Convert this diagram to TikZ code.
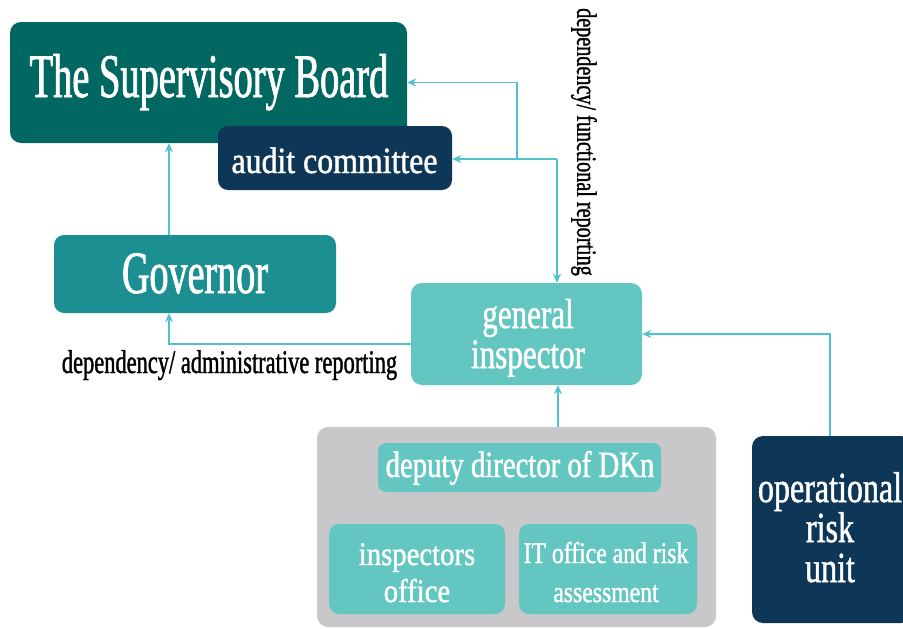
\documentclass[tikz,border=0pt]{standalone}
\usepackage{fontspec}
\setmainfont{Liberation Serif}
\usetikzlibrary{arrows.meta}

\definecolor{boardgreen}{RGB}{0,104,96}
\definecolor{navy}{RGB}{14,54,86}
\definecolor{govteal}{RGB}{27,143,145}
\definecolor{lightteal}{RGB}{99,198,193}
\definecolor{panelgray}{RGB}{200,200,202}
\definecolor{linkcyan}{RGB}{78,195,207}

% size, horizontal squeeze, line spacing
\newcommand\cfont[3]{\fontsize{#1}{#3}\selectfont\addfontfeatures{FakeStretch=#2,FakeBold=1.2}}

\tikzset{
  box/.style={rounded corners=11pt, inner sep=0pt, draw=none},
  lbl/.style={text=white, anchor=base, inner sep=0pt, align=center},
  note/.style={text=black, inner sep=0pt},
  link/.style={draw=linkcyan, line width=1.8pt,
    -{Stealth[length=9pt,width=8pt]}},
  plain/.style={draw=linkcyan, line width=1.8pt},
}

\begin{document}
\begin{tikzpicture}[x=1pt,y=-1pt]
\useasboundingbox (0,0) rectangle (903,629);
\fill[white] (0,0) rectangle (903,629);

% boxes
\node[box, fill=boardgreen, minimum width=397pt, minimum height=121pt] (board) at (208.5,82.5) {};
\node[box, fill=navy, rounded corners=10pt, minimum width=234pt, minimum height=64pt] (audit) at (335,158) {};
\node[box, fill=govteal, rounded corners=10pt, minimum width=282pt, minimum height=78pt] (gov) at (195,274) {};
\node[box, fill=lightteal, minimum width=231pt, minimum height=102pt] (gi) at (526.5,334) {};
\node[box, fill=panelgray, minimum width=399pt, minimum height=200pt] (panel) at (516.5,527) {};
\node[box, fill=lightteal, rounded corners=8pt, minimum width=283pt, minimum height=49pt] (deputy) at (519.5,467.5) {};
\node[box, fill=lightteal, rounded corners=10pt, minimum width=176pt, minimum height=90pt] (insp) at (417,569) {};
\node[box, fill=lightteal, rounded corners=10pt, minimum width=178pt, minimum height=90pt] (itoff) at (608,569) {};
\node[box, fill=navy, minimum width=160pt, minimum height=187pt] (oru) at (832,529.5) {};

% box texts (anchored on the baseline of the last line)
\node[lbl, font=\cfont{62}{0.62}{62}] (boardtxt) at (209,97) {The Supervisory Board};
\node[lbl, font=\cfont{37}{0.86}{37}] (audittxt) at (334.5,173) {audit committee};
\node[lbl, font=\cfont{60}{0.635}{60}] (govtxt) at (195,293) {Governor};
\node[lbl, font=\cfont{42}{0.74}{40}] (gitxt) at (528,368) {general\\inspector};
\node[lbl, font=\cfont{37}{0.776}{37}] (deputytxt) at (520,477) {deputy director of DKn};
\node[lbl, font=\cfont{33}{0.87}{37}] (insptxt) at (417,602) {inspectors\\office};
\node[lbl, font=\cfont{30}{0.79}{39}] (ittxt) at (606,602) {IT office and risk\\assessment};
\node[lbl, font=\cfont{43}{0.745}{40}] (orutxt) at (830,582) {operational\\risk\\unit};

% connector labels
\node[note, anchor=base, font=\cfont{33}{0.68}{33}] (admin) at (229.5,373) {dependency/ administrative reporting};
\node[note, rotate=-90, font=\cfont{28}{0.72}{28}] (func) at (584,142) {dependency/ functional reporting};

% routing points
\coordinate (govx) at (169,0);
\coordinate (admy) at (0,344);
\coordinate (j1) at (517,159);
\coordinate (j2) at (557,159);
\coordinate (panx) at (558,0);

% connectors
\draw[link] (gov.north -| govx) -- (board.south -| govx);
\draw[link] (gi.west |- admy) -| (gov.south -| govx);
\draw[plain] (j1) -- (j2);
\draw[link] (j1) |- (board.east);
\draw[link] (j1) -- (audit.east |- j1);
\draw[link] (j2) -- (gi.north -| j2);
\draw[link] (panel.north -| panx) -- (gi.south -| panx);
\draw[link] (oru.north -| orutxt) |- (gi.east);
\end{tikzpicture}
\end{document}
